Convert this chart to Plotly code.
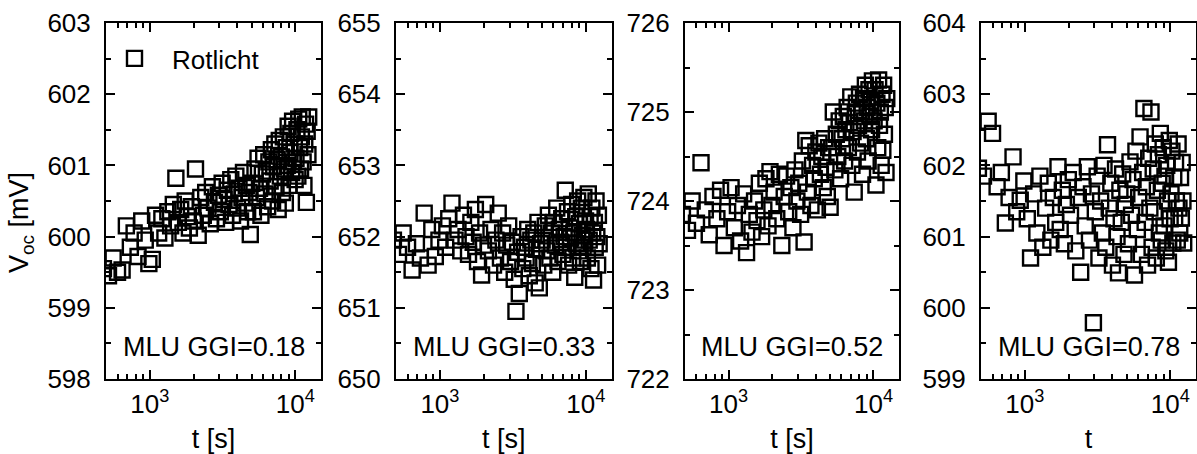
import math
import plotly.graph_objects as go

# ---------------- data ----------------
t_s = [480, 520, 560, 600, 645, 690, 735, 780, 830, 880, 930, 985,
       1040, 1095, 1150, 1210, 1270, 1330, 1390, 1450, 1510, 1570, 1630, 1690, 1750, 1810, 1870, 1930, 1990,
       2060, 2150, 2240, 2330, 2420, 2510, 2600, 2690, 2780, 2870, 2960, 3050, 3140, 3230, 3320, 3410,
       3500, 3600, 3700, 3800, 3900, 4000, 4100, 4200, 4300, 4400, 4500, 4600, 4700, 4800, 4900,
       5020, 5150, 5280, 5410, 5540, 5670, 5800, 5930, 6060, 6190, 6320, 6450, 6580, 6710, 6840, 6970,
       7100, 7230, 7360, 7490, 7620, 7750, 7880, 8010, 8140, 8270, 8400, 8530, 8660, 8790, 8920, 9050,
       9180, 9310, 9440, 9570, 9700, 9830, 9960,
       10100, 10250, 10400, 10550, 10700, 10850, 11000, 11150, 11300, 11450, 11600, 11750, 11900, 12050, 12200, 12350]

voc_018 = [599.55, 599.45, 599.70, 599.50, 599.53, 600.15, 599.85, 600.05, 599.72, 600.22, 599.95, 599.62,
           599.68, 600.30, 600.05, 600.25, 599.98, 600.35, 600.15, 600.45, 600.82, 600.20, 600.38, 600.05, 600.50, 600.28, 600.12, 600.42, 600.22,
           600.95, 600.02, 600.55, 600.30, 600.62, 600.40, 600.18, 600.70, 600.48, 600.25, 600.58, 600.35, 600.75, 600.52, 600.20,
           600.65, 600.45, 600.80, 600.30, 600.60, 600.85, 600.40, 600.68, 600.22, 600.55, 600.90, 600.47, 600.72, 600.35, 600.62, 600.03,
           600.75, 600.35, 600.95, 600.55, 601.10, 600.68, 600.30, 600.88, 601.15, 600.60, 600.92, 600.42, 601.05, 600.78, 601.22,
           600.50, 600.98, 601.30, 600.70, 601.08, 600.38, 601.35, 600.85, 601.12, 600.62, 601.40, 600.95, 600.47, 601.25, 601.00,
           601.55, 600.72, 601.18, 601.45, 600.90, 601.62, 601.05, 601.30, 600.80,
           601.10, 601.50, 600.85, 601.65, 601.25, 600.95, 601.40, 601.68, 601.05, 600.72, 601.30, 601.58, 600.48, 601.48, 601.15, 601.68]

voc_033 = [651.95, 651.75, 652.05, 651.85, 651.53, 651.90, 651.70, 652.33, 651.60, 652.10, 651.72, 651.95,
           652.15, 651.85, 652.25, 652.47, 651.95, 652.10, 651.80, 652.30, 652.00, 651.75, 652.20, 651.92, 652.38, 651.65, 652.05, 651.46, 651.88,
           652.45, 651.80, 652.10, 651.60, 651.95, 652.33, 651.70, 652.05, 651.50, 651.88, 652.15, 651.65, 651.92, 651.40, 650.95,
           651.78, 651.20, 652.00, 651.55, 651.85, 651.70, 652.10, 651.45, 651.95, 651.62, 652.05, 651.35, 651.82, 652.20, 651.28, 651.90,
           651.95, 651.60, 652.15, 651.80, 652.30, 651.70, 652.05, 651.50, 652.20, 651.88, 652.40, 651.65, 652.10, 651.92, 652.25,
           651.75, 652.00, 652.65, 651.85, 652.35, 651.60, 652.12, 651.98, 652.45, 651.70, 652.05, 651.43, 652.28, 651.90, 652.50,
           651.80, 652.18, 651.65, 652.40, 652.02, 651.85, 652.55, 651.95, 652.22,
           652.10, 651.70, 652.60, 651.95, 652.28, 651.55, 652.40, 652.05, 651.39, 652.20, 651.85, 652.50, 652.00, 651.60, 652.30, 651.90]

voc_052 = [723.85, 723.67, 724.00, 723.75, 724.43, 723.90, 723.62, 724.05, 723.80, 724.12, 723.50, 723.88,
           724.15, 723.70, 723.95, 723.55, 724.08, 723.42, 723.85, 723.65, 724.00, 723.78, 724.20, 723.60, 723.90, 724.25, 723.72, 724.33, 723.95,
           724.10, 723.80, 724.30, 723.50, 724.05, 724.28, 723.88, 724.15, 723.70, 724.35, 724.00, 724.20, 723.85, 724.45, 723.54,
           724.68, 724.10, 724.62, 723.95, 724.40, 724.25, 724.55, 723.90, 724.65, 724.30, 724.50, 724.15, 724.70, 724.38, 724.05, 724.60,
           723.93, 724.60, 725.00, 724.35, 724.75, 724.50, 724.90, 724.25, 724.70, 724.95, 724.45, 724.80, 725.05, 724.60, 724.88,
           725.17, 724.40, 724.78, 724.10, 724.98, 725.10, 724.55, 724.85, 725.20, 724.65, 725.00, 724.30, 725.15, 724.90, 725.30,
           724.70, 725.05, 724.45, 725.25, 724.95, 725.12, 724.80, 725.35, 725.00,
           724.90, 725.25, 724.18, 725.10, 724.60, 725.36, 724.85, 725.00, 724.40, 725.20, 724.57, 725.30, 724.75, 725.05, 724.32, 725.15]

voc_078 = [601.96, 601.85, 602.62, 602.45, 601.70, 601.90, 601.19, 601.55, 602.12, 601.35, 601.51, 601.78,
           601.25, 600.70, 601.60, 601.05, 601.85, 600.85, 601.40, 601.75, 600.95, 601.55, 601.20, 601.98, 601.10, 601.65, 600.90, 601.45, 601.80,
           601.30, 601.90, 600.80, 601.55, 600.50, 601.70, 601.15, 601.98, 600.95, 601.60, 599.79, 601.35, 601.85, 600.70, 601.50,
           601.05, 602.00, 600.85, 602.29, 601.40, 601.75, 600.60, 601.25, 601.95, 601.00, 600.49, 601.65, 601.20, 601.88, 600.75, 601.45,
           601.60, 600.90, 602.05, 601.30, 601.80, 600.46, 602.20, 601.10, 601.55, 602.40, 600.75, 601.90, 602.80, 601.20, 601.70,
           600.60, 602.10, 601.40, 602.75, 600.85, 601.95, 601.35, 602.30, 600.70, 601.65, 602.15, 601.05, 602.45, 600.95, 601.75,
           602.25, 601.15, 601.85, 600.80, 602.00, 601.50, 600.64, 602.35, 601.25,
           601.60, 602.20, 600.91, 601.83, 601.26, 602.04, 601.50, 600.95, 602.30, 601.40, 601.05, 601.83, 601.26, 602.04, 601.50, 600.91]

panel_series = [voc_018, voc_033, voc_052, voc_078]
panel_labels = ["MLU GGI=0.18", "MLU GGI=0.33", "MLU GGI=0.52", "MLU GGI=0.78"]
panel_ylo = [598, 650, 722, 599]
panel_yhi = [603, 655, 726, 604]
x_titles = ["t [s]", "t [s]", "t [s]", "t"]
x_ticks = [1000, 10000]
x_ticktext = ["10<sup>3</sup>", "10<sup>4</sup>"]
x_minor = [600, 700, 800, 900, 2000, 3000, 4000, 5000, 6000, 7000, 8000, 9000]
legend_name = "Rotlicht"
y_title = "V<sub>oc</sub> [mV]"
t_range = [500, 15000]

# ---------------- layout geometry ----------------
W, H = 1197, 454
px_domains = [(106, 321), (396, 611.5), (685, 899), (981, 1196)]
TOP, BOT = 23, 379
FONT = "Arial, 'Liberation Sans', sans-serif"

fig = go.Figure()
for i, v in enumerate(panel_series):
    n = "" if i == 0 else str(i + 1)
    fig.add_trace(go.Scatter(
        x=t_s, y=v, mode="markers", name=legend_name, showlegend=(i == 0),
        xaxis="x" + n, yaxis="y" + n,
        marker=dict(symbol="square-open", size=15, color="black", line=dict(width=2.4, color="black")),
        cliponaxis=True,
    ))

ph = BOT - TOP
layout = dict(
    width=W, height=H,
    margin=dict(l=0, r=0, t=TOP, b=H - BOT, pad=0),
    paper_bgcolor="white", plot_bgcolor="white",
    font=dict(family=FONT, size=26, color="black"),
    showlegend=True,
    legend=dict(x=97 / W, y=(BOT - 35) / ph, xanchor="left", yanchor="top",
                bgcolor="rgba(0,0,0,0)", font=dict(size=26, family=FONT),
                itemwidth=65, itemsizing="trace"),
    annotations=[],
)

for i in range(4):
    n = "" if i == 0 else str(i + 1)
    d0, d1 = px_domains[i]
    layout["xaxis" + n] = dict(
        domain=[d0 / W, d1 / W], anchor="y" + n, type="log",
        range=[math.log10(t_range[0]), math.log10(t_range[1])],
        tickmode="array", tickvals=x_ticks, ticktext=x_ticktext,
        ticks="inside", ticklen=9, tickwidth=2, tickcolor="black",
        minor=dict(tickmode="array", tickvals=x_minor, ticks="inside", ticklen=5, tickwidth=2, tickcolor="black"),
        showline=True, linecolor="black", linewidth=2, mirror="ticks",
        showgrid=False, zeroline=False,
        tickfont=dict(size=26, family=FONT),
        ticklabelstandoff=1,
        title=dict(text=x_titles[i], font=dict(size=27, family=FONT), standoff=12),
    )
    layout["yaxis" + n] = dict(
        domain=[0, 1], anchor="x" + n,
        range=[panel_ylo[i], panel_yhi[i]], tickmode="linear", tick0=panel_ylo[i], dtick=1,
        ticks="inside", ticklen=9, tickwidth=2, tickcolor="black",
        minor=dict(dtick=0.5, ticks="inside", ticklen=5, tickwidth=2, tickcolor="black"),
        showline=True, linecolor="black", linewidth=2, mirror="ticks",
        showgrid=False, zeroline=False,
        tickfont=dict(size=26, family=FONT),
        ticklabelstandoff=8,
    )
    layout["annotations"].append(dict(
        text=panel_labels[i], xref="x" + n + " domain", yref="y" + n + " domain",
        x=0.5, y=(BOT - 347) / ph, xanchor="center", yanchor="middle", showarrow=False,
        font=dict(size=27, family=FONT, color="black"),
    ))

layout["annotations"].append(dict(
    text=y_title, xref="paper", yref="paper", x=21 / W, y=(BOT - 223) / ph,
    xanchor="center", yanchor="middle", textangle=-90, showarrow=False,
    font=dict(size=27, family=FONT, color="black"),
))

fig.update_layout(**layout)
fig.write_html(
    "out.html",
    config={"displayModeBar": False},
    post_script="document.body.style.margin='0';document.body.style.overflow='hidden';",
)
